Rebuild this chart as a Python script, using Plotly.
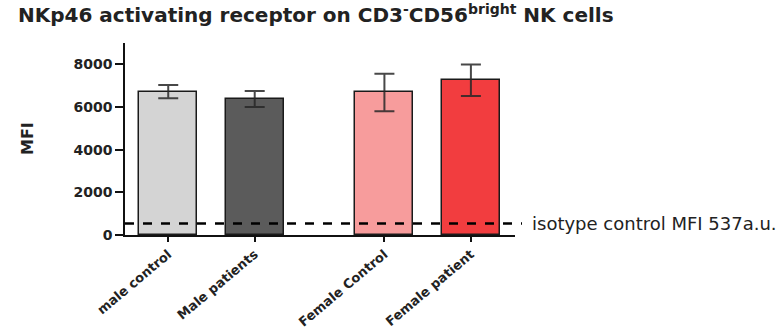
import plotly.graph_objects as go

# Group labels, bar positions (gap between male and female groups), means and SEM
groups = ["male control", "Male patients", "Female Control", "Female patient"]
positions = [0, 1, 2.5, 3.5]
mfi_mean = [6720, 6380, 6680, 7250]
mfi_err = [310, 375, 875, 740]
bar_colors = ["#d4d4d4", "#5b5b5b", "#f79c9c", "#f23d3f"]
isotype_mfi = 537

y_ticks = [0, 2000, 4000, 6000, 8000]

fig = go.Figure()
fig.add_trace(go.Bar(
    x=positions,
    y=mfi_mean,
    width=0.67,
    marker=dict(color=bar_colors, line=dict(color="#1a1a1a", width=1.5)),
    error_y=dict(type="data", array=mfi_err, visible=True,
                 color="rgba(40,40,40,0.85)", thickness=2, width=10),
    showlegend=False,
))

# Isotype control reference line
fig.add_shape(type="line", xref="paper", yref="y",
              x0=0, x1=(522 - 125) / 390, y0=isotype_mfi, y1=isotype_mfi,
              line=dict(color="black", width=2.5, dash="dash"))
fig.add_annotation(xref="paper", yref="y", x=(530 - 125) / 390, y=isotype_mfi,
                   text=f"isotype control MFI {isotype_mfi}a.u.",
                   showarrow=False, xanchor="left", yanchor="middle",
                   font=dict(family="DejaVu Sans", size=18, color="#222"))

# Y axis title
fig.add_annotation(xref="paper", yref="paper", x=(27 - 125) / 390, y=0.5,
                   text="<b>MFI</b>", textangle=-90, showarrow=False,
                   xanchor="center", yanchor="middle",
                   font=dict(family="DejaVu Sans", size=16, color="#222"))

fig.update_layout(
    width=778, height=328,
    margin=dict(l=125, r=263, t=43, b=92.5, autoexpand=False),
    paper_bgcolor="white", plot_bgcolor="white",
    title=dict(
        text="<b>NKp46 activating receptor on CD3<sup>-</sup>CD56<sup>bright</sup> NK cells</b>",
        xref="container", yref="container", x=18 / 778, y=1 - 15 / 328,
        xanchor="left", yanchor="middle",
        font=dict(family="DejaVu Sans", size=20, color="#222"),
    ),
    bargap=0,
)

fig.update_xaxes(
    range=[-0.5, 4.01], tickmode="array", tickvals=positions,
    ticktext=[f"<b>{g}</b>" for g in groups], tickangle=-40,
    showline=True, linecolor="#111", linewidth=1.5,
    ticks="outside", ticklen=5, tickwidth=1.5, tickcolor="#111",
    showgrid=False, zeroline=False, automargin=False,
    tickfont=dict(family="DejaVu Sans", size=13, color="#222"),
)
fig.update_yaxes(
    range=[0, 9000], tickmode="array", tickvals=y_ticks,
    ticktext=[f"<b>{v}</b>" for v in y_ticks],
    showline=True, linecolor="#111", linewidth=1.5,
    ticks="outside", ticklen=8, tickwidth=1.5, tickcolor="#111",
    showgrid=False, zeroline=False, automargin=False,
    tickfont=dict(family="DejaVu Sans", size=14, color="#222"),
)

fig.write_html("out.html")
